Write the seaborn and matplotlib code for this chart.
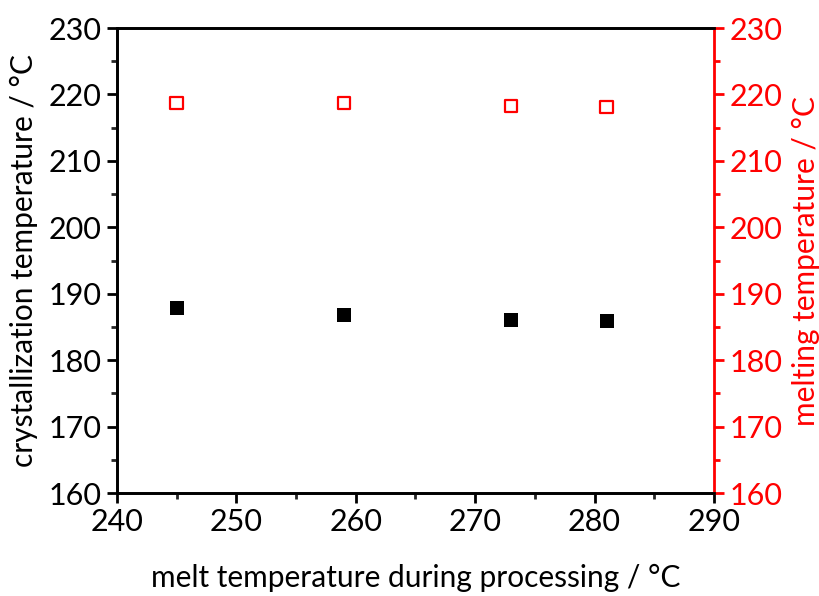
import matplotlib
matplotlib.use("Agg")
import matplotlib.pyplot as plt
import seaborn as sns
import pandas as pd
from matplotlib.ticker import MultipleLocator

melt_temp = [245, 259, 273, 281]
cryst_temp = [187.9, 186.8, 186.1, 185.9]
melting_temp = [218.7, 218.7, 218.3, 218.1]

sns.set_style("ticks")
plt.rcParams["font.family"] = ["Lato", "DejaVu Sans"]
plt.rcParams["font.size"] = 21
plt.rcParams["axes.labelcolor"] = "black"
plt.rcParams["text.color"] = "black"

df = pd.DataFrame({"melt": melt_temp, "tc": cryst_temp, "tm": melting_temp})

fig = plt.figure(figsize=(8.2, 5.96), dpi=100)
ax = fig.add_axes([0.1427, 0.1728, 0.7280, 0.7802])
ax2 = ax.twinx()

red = "#ff0000"

sns.scatterplot(data=df, x="melt", y="tc", ax=ax, marker="s", s=95,
                color="black", edgecolor="black", linewidth=0, zorder=3)
sns.scatterplot(data=df, x="melt", y="tm", ax=ax2, marker="s", s=80,
                facecolor="none", edgecolor=red, linewidth=1.6, zorder=3)

ax.set_xlim(240, 290)
ax.set_ylim(160, 230)
ax2.set_ylim(160, 230)

for a in (ax, ax2):
    a.xaxis.set_major_locator(MultipleLocator(10))
    a.xaxis.set_minor_locator(MultipleLocator(5))
    a.yaxis.set_major_locator(MultipleLocator(10))
    a.yaxis.set_minor_locator(MultipleLocator(5))
    for s in a.spines.values():
        s.set_linewidth(2)
        s.set_visible(True)

ax.tick_params(axis="both", which="major", length=7, width=2, direction="out",
               labelsize=22, colors="black", pad=4)
ax.tick_params(axis="both", which="minor", length=4, width=2, direction="out")
ax.tick_params(axis="x", top=False, which="both")

ax2.tick_params(axis="y", which="major", length=7, width=2, direction="out",
                labelsize=22, colors=red, pad=4)
ax2.tick_params(axis="y", which="minor", length=4, width=2, direction="out",
                colors=red)
ax2.spines["right"].set_color(red)
ax2.spines["top"].set_color("black")
ax2.spines["left"].set_color("black")
ax2.spines["bottom"].set_color("black")
ax.spines["right"].set_visible(False)

ax.set_xlabel("melt temperature during processing / °C", fontsize=21.5,
              labelpad=20, color="black")
ax.set_ylabel("crystallization temperature / °C", fontsize=21.5,
              labelpad=8, color="black")
ax2.set_ylabel("melting temperature / °C", fontsize=21.5, color=red, labelpad=7)

fig.savefig("out.png", dpi=100)
